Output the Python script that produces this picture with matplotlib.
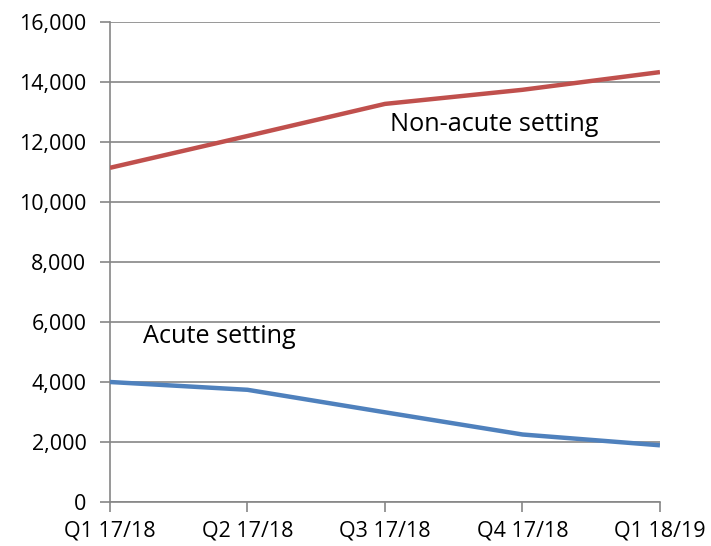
import matplotlib.pyplot as plt
from matplotlib.ticker import FuncFormatter

quarters = ["Q1 17/18", "Q2 17/18", "Q3 17/18", "Q4 17/18", "Q1 18/19"]
non_acute = [11140, 12200, 13270, 13740, 14330]
acute = [4000, 3740, 2990, 2250, 1890]

plt.rcParams['font.family'] = ['Open Sans', 'DejaVu Sans']

fig = plt.figure(figsize=(7.11, 5.46), dpi=100)
ax = fig.add_axes([0.1547, 0.0806, 0.7735, 0.8791])

x = range(len(quarters))
ax.plot(x, non_acute, color='#C0504D', lw=3.2, solid_capstyle='butt', zorder=3)
ax.plot(x, acute, color='#4F81BD', lw=3.2, solid_capstyle='butt', zorder=3)

ax.set_xlim(0, len(quarters) - 1)
ax.set_ylim(0, 16000)
ax.set_yticks(range(0, 16001, 2000))
ax.yaxis.set_major_formatter(FuncFormatter(lambda v, p: f"{int(v):,}"))
ax.set_xticks(list(x))
ax.set_xticklabels(quarters)

ax.grid(axis='y', color='#868686', lw=1.2)
ax.set_axisbelow(True)
for side in ['top', 'right']:
    ax.spines[side].set_visible(False)
for side in ['left', 'bottom']:
    ax.spines[side].set_color('#868686')
    ax.spines[side].set_linewidth(1.2)
ax.tick_params(axis='both', colors='#868686', length=7, width=1.2,
               labelcolor='black', labelsize=15.5)
ax.tick_params(axis='y', pad=10)
ax.tick_params(axis='x', pad=6)

ax.text(2.036, 12370, "Non-acute setting", fontsize=18.2, va='baseline', ha='left')
ax.text(0.24, 5300, "Acute setting", fontsize=18.2, va='baseline', ha='left')

plt.savefig("out.png", dpi=100)
